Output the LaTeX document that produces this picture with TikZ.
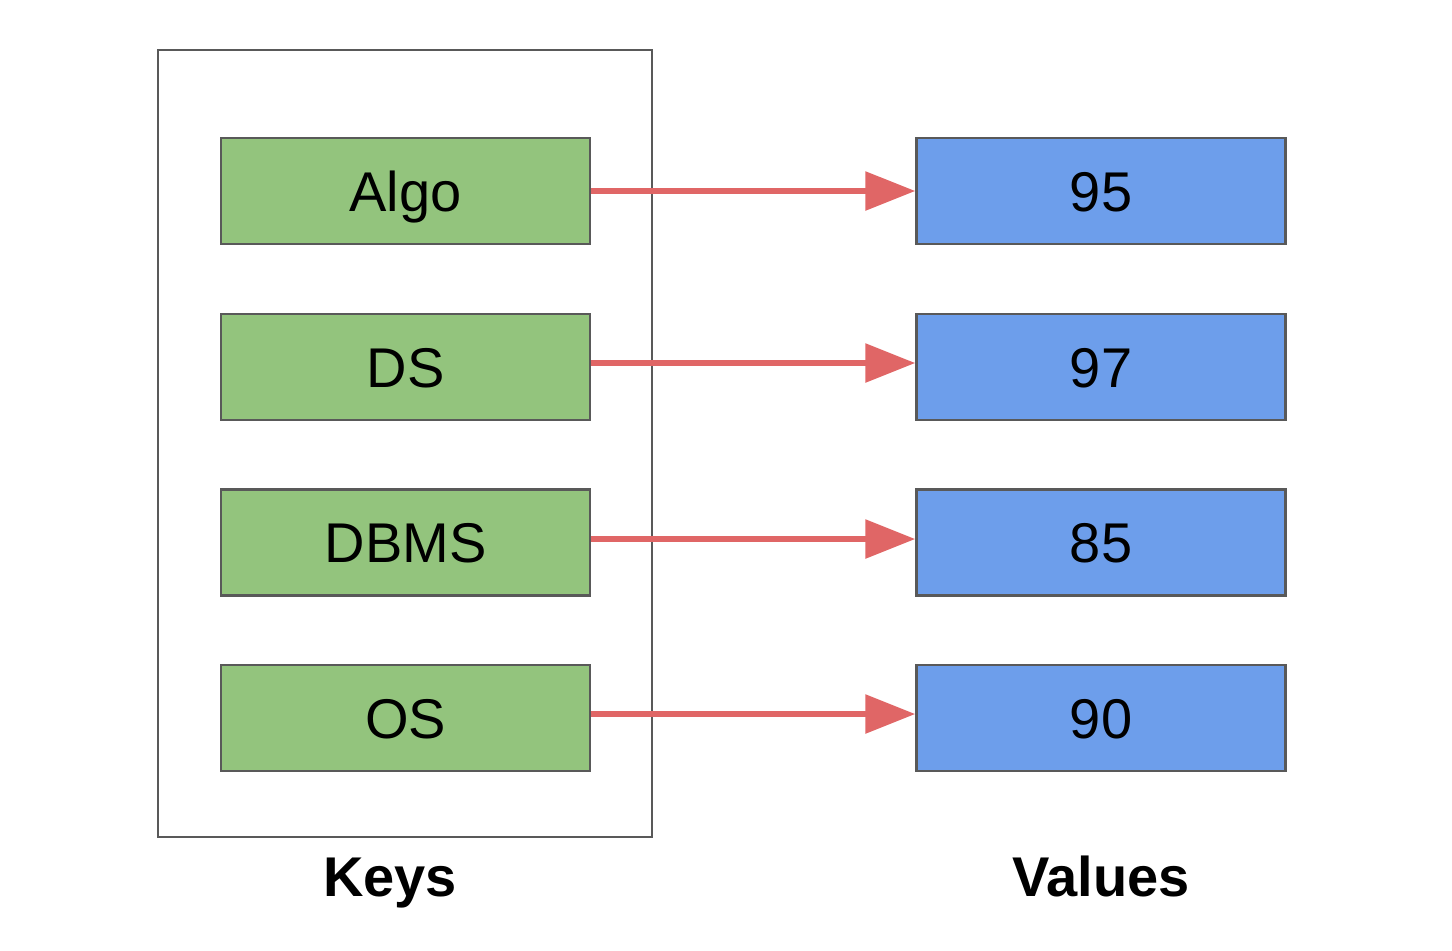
\documentclass[tikz,border=0pt]{standalone}
\usepackage{fontspec}
\setmainfont{Liberation Sans}
\usetikzlibrary{arrows.meta}
\definecolor{keyg}{HTML}{93C47D}
\definecolor{valb}{HTML}{6D9EEB}
\definecolor{arr}{HTML}{E06666}
\definecolor{bord}{HTML}{595959}
\begin{document}
\begin{tikzpicture}[x=1pt,y=-1pt,
  cell/.style={draw=bord,line width=2.5pt,minimum width=369pt,minimum height=106pt,inner sep=0pt,text height=40pt,text depth=0pt,font=\fontsize{56}{56}\selectfont},
  keybox/.style={cell,fill=keyg},
  valbox/.style={cell,fill=valb},
  link/.style={draw=arr,line width=6pt,-{Triangle[length=50pt,width=38pt]}},
  lbl/.style={anchor=base,inner sep=0pt,font=\fontsize{56}{56}\selectfont\bfseries}]
\useasboundingbox (0,0) rectangle (1452,951);
\node[draw=bord,line width=2.2pt,minimum width=494pt,minimum height=787pt,inner sep=0pt] (frame) at (405,443.5) {};
\node[keybox] (k1) at (405.5,191) {Algo};
\node[keybox] (k2) at (405.5,367) {DS};
\node[keybox] (k3) at (405.5,542.5) {DBMS};
\node[keybox] (k4) at (405.5,718) {OS};
\node[valbox] (v1) at (1101,191) {95};
\node[valbox] (v2) at (1101,367) {97};
\node[valbox] (v3) at (1101,542.5) {85};
\node[valbox] (v4) at (1101,718) {90};
\draw[link] (k1.east |- 0,191) -- (v1.west |- 0,191);
\draw[link] (k2.east |- 0,363) -- (v2.west |- 0,363);
\draw[link] (k3.east |- 0,539) -- (v3.west |- 0,539);
\draw[link] (k4.east |- 0,714) -- (v4.west |- 0,714);
\node[lbl] (keys) at (390,896) {Keys};
\node[lbl] (vals) at (1101,896) {Values};
\end{tikzpicture}
\end{document}
